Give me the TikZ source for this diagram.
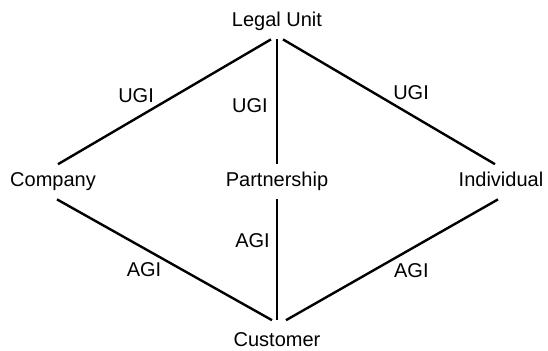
\documentclass[tikz,border=0pt]{standalone}
\usepackage{fontspec}
\setmainfont{Liberation Sans}

\begin{document}
\begin{tikzpicture}[line width=1.2pt,node distance=80pt,main node/.style={inner sep=3.5pt,text height=7.3pt,text depth=2.1pt,font=\fontsize{10}{12}\selectfont},gain/.style={inner sep=1pt,font=\fontsize{10}{12}\selectfont}]

				\useasboundingbox (0,0) rectangle (274pt,-175.5pt);

				\node[main node] (P) at (138.5pt,-90.9pt) {Partnership};
				\node[main node] (L) [above of = P] {Legal Unit};
				\node[main node] (Cu) [below of = P] {Customer};
				\node[main node] (C) [left of = P, node distance=112pt] {Company};
				\node[main node] (I) [right of = P, node distance=112pt] {Individual};

				% UGI links
				\draw ([xshift=-3pt]L.south) -- node[gain, pos=.535, above left] {UGI} ([xshift=2.5pt]C.north);
				\draw (L.south) -- node[gain, pos=.53, left=3pt] {UGI} (P.north);
				\draw ([xshift=3pt]L.south) -- node[gain, pos=.505, above right] {UGI} ([xshift=-3pt]I.north);

				% AGI links
				\draw ([xshift=2pt]C.south) -- node[gain, pos=.5, below left] {AGI} ([shift={(-2.5pt,2pt)}]Cu.north);
				\draw (P.south) -- node[gain, pos=.34, left=2pt] {AGI} ([yshift=2pt]Cu.north);
				\draw ([xshift=-1.5pt]I.south) -- node[gain, pos=.505, below right] {AGI} ([shift={(4.5pt,2pt)}]Cu.north);

\end{tikzpicture}
\end{document}
